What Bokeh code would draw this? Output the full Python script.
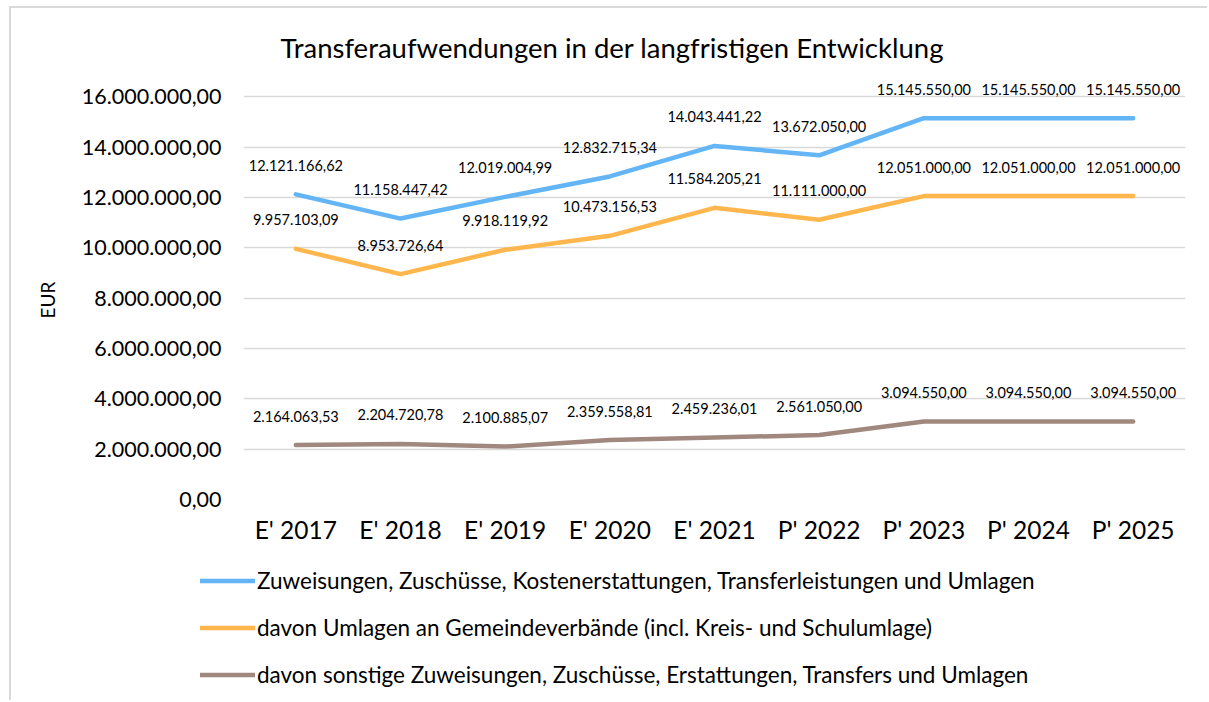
from bokeh.plotting import figure
from bokeh.models import FactorRange, Range1d, FixedTicker, Legend, LegendItem, Title
from bokeh.embed import file_html
from bokeh.resources import INLINE
from bokeh.core.properties import value

categories = ["E' 2017", "E' 2018", "E' 2019", "E' 2020", "E' 2021",
              "P' 2022", "P' 2023", "P' 2024", "P' 2025"]
zuweisungen = [12121166.62, 11158447.42, 12019004.99, 12832715.34, 14043441.22,
               13672050.00, 15145550.00, 15145550.00, 15145550.00]
umlagen = [9957103.09, 8953726.64, 9918119.92, 10473156.53, 11584205.21,
           11111000.00, 12051000.00, 12051000.00, 12051000.00]
sonstige = [2164063.53, 2204720.78, 2100885.07, 2359558.81, 2459236.01,
            2561050.00, 3094550.00, 3094550.00, 3094550.00]
y_ticks = [0, 2000000, 4000000, 6000000, 8000000, 10000000, 12000000, 14000000, 16000000]
series_names = [
    "Zuweisungen, Zuschüsse, Kostenerstattungen, Transferleistungen und Umlagen",
    "davon Umlagen an Gemeindeverbände (incl. Kreis- und Schulumlage)",
    "davon sonstige Zuweisungen, Zuschüsse, Erstattungen, Transfers und Umlagen",
]
colors = ["#64B5F6", "#FFB74D", "#A1887F"]
title_text = "Transferaufwendungen in der langfristigen Entwicklung"
y_title = "EUR"

FONT = "Lato"
BORDER = "2px solid #D9D9D9"
W = 1198
H1 = 545
H2 = 149


def de(v):
    s = f"{v:,.2f}"
    return s.replace(",", "X").replace(".", ",").replace("X", ".")


p = figure(width=W, height=H1,
           x_range=FactorRange(*categories), y_range=Range1d(0, 17000000),
           output_backend="svg", toolbar_location=None,
           min_border_left=232, min_border_right=24,
           min_border_top=63, min_border_bottom=54,
           title=title_text)
p.styles = {"margin-left": "9px", "margin-top": "6px",
            "border-left": BORDER, "border-top": BORDER}

p.title.align = "left"
p.title.offset = 37
p.title.text_font = FONT
p.title.text_font_size = "27.5px"
p.title.text_font_style = "normal"
p.title.text_color = "#000000"
p.title.standoff = 16

p.outline_line_color = None
p.xgrid.grid_line_color = None
p.ygrid.grid_line_color = "#D9D9D9"
p.ygrid.grid_line_width = 1.5

p.yaxis.ticker = FixedTicker(ticks=y_ticks)
p.yaxis.major_label_overrides = {t: de(t) for t in y_ticks}

ytitle = Title(text=y_title, align="left", offset=181, standoff=40,
               text_font=FONT, text_font_size="19px", text_font_style="normal",
               text_color="#000000")
p.add_layout(ytitle, "left")

for ax in (p.xaxis, p.yaxis):
    ax.axis_line_color = None
    ax.major_tick_line_color = None
    ax.minor_tick_line_color = None
    ax.major_tick_out = 0
    ax.major_tick_in = 0
    ax.major_label_text_font = FONT
    ax.major_label_text_color = "#000000"

p.yaxis.major_label_text_font_size = "21.5px"
p.xaxis.major_label_text_font_size = "24.5px"
p.yaxis.major_label_standoff = 22
p.xaxis.major_label_standoff = 15

for vals, col in zip([zuweisungen, umlagen, sonstige], colors):
    p.line(x=categories, y=vals, line_color=col, line_width=4.5,
           line_cap="round", line_join="round")
    p.text(x=categories, y=vals, text=[de(v) for v in vals], y_offset=-29,
           text_align="center", text_baseline="middle",
           text_font=value(FONT), text_font_size="14.5px", text_color="#000000")

# legend panel below the chart (separate root)
q = figure(width=W, height=H2, x_range=Range1d(0, 1), y_range=Range1d(0, 1),
           output_backend="svg", toolbar_location=None,
           min_border=0, outline_line_color=None)
q.styles = {"margin-left": "9px", "border-left": BORDER}
q.axis.visible = False
q.grid.visible = False
nan = float("nan")
items = []
for name, col in zip(series_names, colors):
    r = q.line(x=[nan], y=[nan], line_color=col, line_width=4.5, line_cap="round")
    items.append(LegendItem(label=name, renderers=[r]))
legend = Legend(items=items, location=(189, 12), orientation="vertical",
                glyph_width=55, glyph_height=27, label_height=27, spacing=20,
                padding=0, margin=0, label_standoff=2,
                border_line_color=None, background_fill_alpha=0,
                label_text_font=FONT, label_text_font_size="22.5px",
                label_text_color="#000000")
q.add_layout(legend)

open("out.html", "w").write(file_html([p, q], INLINE))
